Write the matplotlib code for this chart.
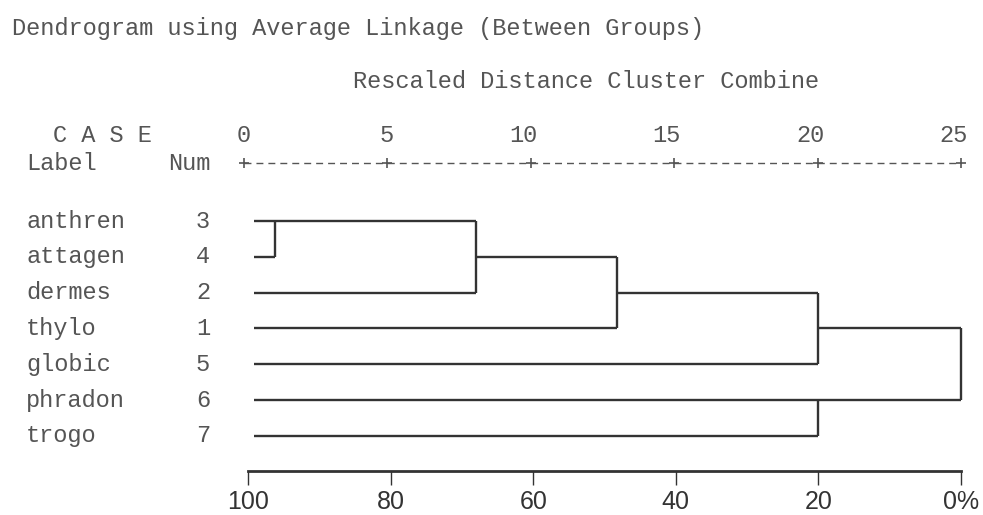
import matplotlib
matplotlib.use("Agg")
import matplotlib.pyplot as plt
import matplotlib.transforms as mtransforms

W, H, DPI = 983, 515, 100

case_labels = ["anthren", "attagen", "dermes", "thylo", "globic", "phradon", "trogo"]
case_nums = [3, 4, 2, 1, 5, 6, 7]
# pares de linhas que se juntam e a distancia reescalada da junção
merge_rows = [(0, 1), (0, 2), (1, 3), (2, 4), (5, 6), (3, 5)]
merge_dist = [1.1, 8.1, 13.0, 20.0, 20.0, 25.0]
scale_ticks = [0, 5, 10, 15, 20, 25]
pct_ticks = [100, 80, 60, 40, 20, 0]
pct_labels = ["100", "80", "60", "40", "20", "0%"]

MONO = "Liberation Mono"
INK = "#333333"
TXT = "#555555"
LEAF_START = 0.37


def px_axes(fig, x0, y0, x1, y1):
    return fig.add_axes([x0 / W, 1 - y1 / H, (x1 - x0) / W, (y1 - y0) / H])


def ftext(fig, x, y, s, **kw):
    kw.setdefault("family", MONO)
    kw.setdefault("fontsize", 17)
    kw.setdefault("color", TXT)
    kw.setdefault("va", "center")
    fig.text(x / W, 1 - y / H, s, **kw)


fig = plt.figure(figsize=(W / DPI, H / DPI), dpi=DPI)
fig.patch.set_facecolor("white")

# cabeçalho estilo SPSS
ftext(fig, 12, 28, "Dendrogram using Average Linkage (Between Groups)")
ftext(fig, 353, 82, "Rescaled Distance Cluster Combine")
ftext(fig, 53, 136, "C A S E")
ftext(fig, 26, 164, "Label")
ftext(fig, 168, 164, "Num")

# eixo principal: x = distancia (0..25), y = linha do caso
row0_y, row_step = 221.0, 35.83
ax = px_axes(fig, 243.5, row0_y - row_step / 2, 961.0,
             row0_y + row_step * (len(case_labels) - 0.5))
ax.set_xlim(0, 25)
ax.set_ylim(len(case_labels) - 0.5, -0.5)
ax.axis("off")

for i, (lab, num) in enumerate(zip(case_labels, case_nums)):
    y = row0_y + i * row_step
    ftext(fig, 26, y, lab)
    ftext(fig, 203, y, str(num), ha="center")

# linha "+-----+" com a escala de cima
ruler_y = (163 - row0_y) / row_step
ax.plot([0, 25], [ruler_y, ruler_y], color=TXT, lw=1.0,
        dashes=(5, 3.6), clip_on=False)
ax.plot(scale_ticks, [ruler_y] * len(scale_ticks), ls="none", marker="+",
        ms=7, mew=1.2, color=TXT, clip_on=False)
lab_y = (135 - row0_y) / row_step
shift = mtransforms.ScaledTranslation(7 / DPI, 0, fig.dpi_scale_trans)
for t in scale_ticks:
    ax.text(t, lab_y, str(t), ha="right", va="center", family=MONO,
            fontsize=17, color=TXT, transform=ax.transData + shift,
            clip_on=False)

# desenho do dendrograma
line_kw = dict(color=INK, lw=1.7, clip_on=False, solid_capstyle="butt")
node_h = {r: LEAF_START for r in range(len(case_labels))}
for (a, b), d in zip(merge_rows, merge_dist):
    ax.plot([node_h[a], d], [a, a], **line_kw)
    ax.plot([node_h[b], d], [b, b], **line_kw)
    ax.plot([d, d], [a, b], **line_kw)
    node_h[(a + b) // 2] = d

# escala percentual em baixo
axb = px_axes(fig, 248, 470.7, 961, 470.8)
axb.set_xlim(100, 0)
axb.set_yticks([])
for s in ("top", "left", "right"):
    axb.spines[s].set_visible(False)
axb.spines["bottom"].set_linewidth(2.0)
axb.spines["bottom"].set_color("#333333")
axb.set_xticks(pct_ticks)
axb.set_xticklabels(pct_labels)
axb.tick_params(axis="x", direction="out", length=10, width=1.0,
                color="#333333", pad=4, labelsize=18, labelcolor="#333333")
for t in axb.get_xticklabels():
    t.set_family("Liberation Sans")

fig.savefig("out.png", dpi=DPI, facecolor="white")
